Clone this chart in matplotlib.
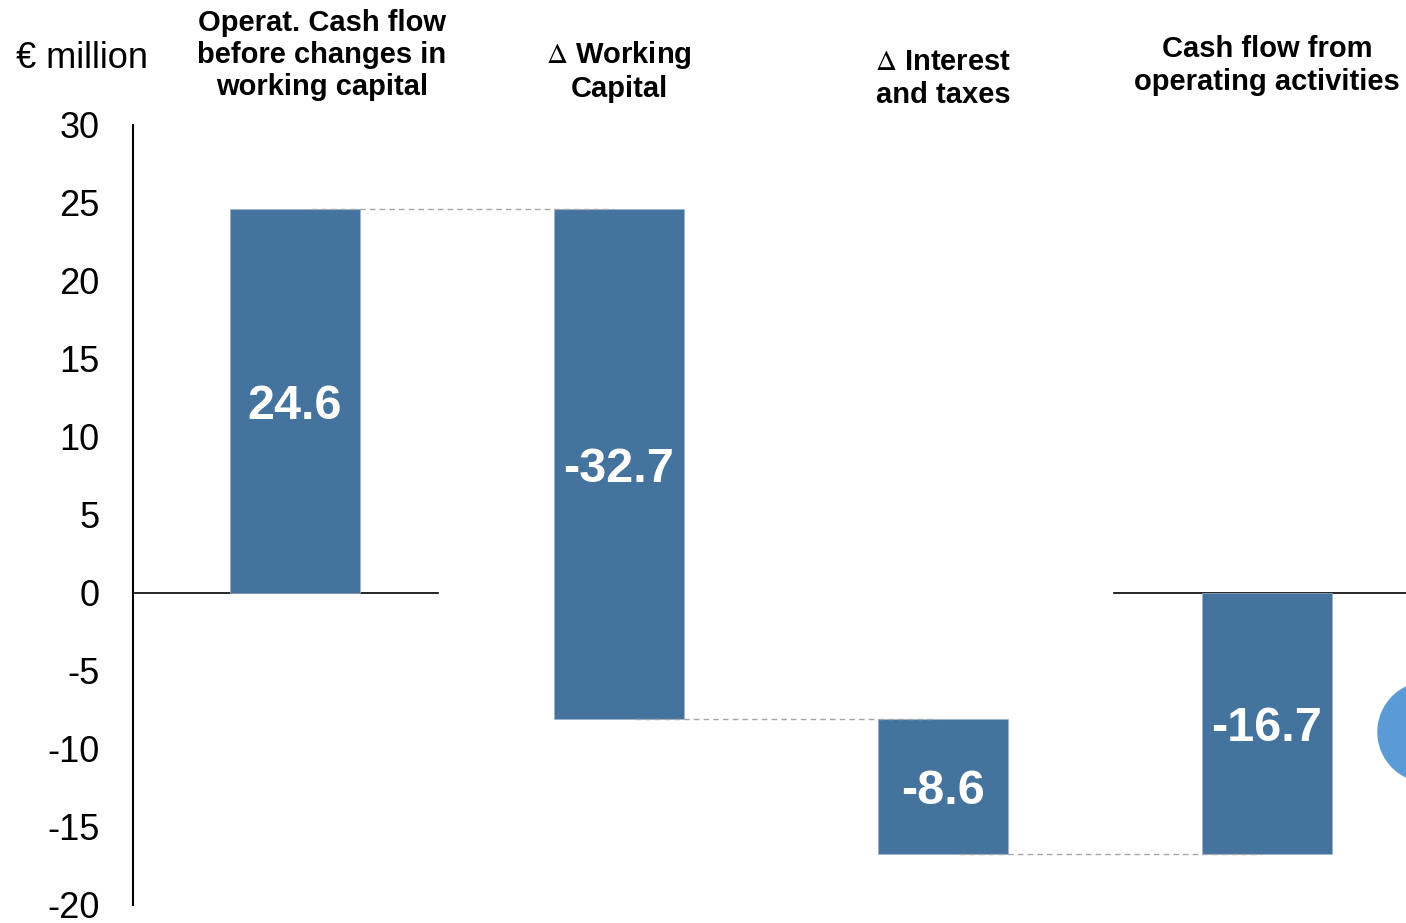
import matplotlib
matplotlib.use('Agg')
import matplotlib.pyplot as plt
from matplotlib.patches import Circle

plt.rcParams['font.family'] = ['Liberation Sans', 'DejaVu Sans']
plt.rcParams['mathtext.fontset'] = 'stix'

# waterfall data (EUR million)
categories = ['Operat. Cash flow\nbefore changes in\nworking capital',
              '$\\Delta$ Working\nCapital',
              '$\\Delta$ Interest\nand taxes',
              'Cash flow from\noperating activities']
steps = [24.6, -32.7, -8.6]
total = -16.7
value_labels = ['24.6', '-32.7', '-8.6', '-16.7']
yticks = [30, 25, 20, 15, 10, 5, 0, -5, -10, -15, -20]

bar_color = '#44739E'

# build bottoms / heights of the waterfall
bottoms = []
heights = []
level = 0
for v in steps:
    bottoms.append(level)
    heights.append(v)
    level += v
bottoms.append(0)
heights.append(total)
x = list(range(len(bottoms)))

fig = plt.figure(figsize=(14.06, 9.23), dpi=100)
ax = fig.add_axes([133 / 1406, 18 / 923, 1273 / 1406, 780 / 923])

# zero line pieces (behind bars)
ax.plot([-0.494, 0.441], [0, 0], color='black', lw=1.2, zorder=1)
ax.plot([2.528, 3.5], [0, 0], color='black', lw=1.2, zorder=1, clip_on=False)

ax.bar(x, heights, bottom=bottoms, width=0.4, color=bar_color,
       edgecolor='#9DB3CB', linewidth=0.5, zorder=2)

# dashed connectors between bars
for i in range(len(steps)):
    lvl = bottoms[i] + heights[i]
    ax.plot([i + 0.05, i + 0.98], [lvl, lvl], color='#A6A6A6', lw=1.0,
            ls=(0, (4, 3)), zorder=3)

# value labels in the middle of each bar
for i in x:
    mid = bottoms[i] + heights[i] / 2
    ax.text(i, mid, value_labels[i], ha='center', va='center_baseline', color='white',
            fontsize=35, fontweight='bold', zorder=4)

ax.set_xlim(-0.5, 3.429)
ax.set_ylim(-20, 30)
ax.set_yticks(yticks)
ax.set_yticklabels([str(t) for t in yticks])
ax.set_xticks([])
ax.tick_params(axis='y', length=0, labelsize=26, pad=24)
for s in ['top', 'right', 'bottom']:
    ax.spines[s].set_visible(False)
ax.spines['left'].set_linewidth(1.5)

# category headers above the plot
label_px = [(322, 55), (619, 71), (943, 78.5), (1267, 65.5)]
for (px, py), lab in zip(label_px, categories):
    fig.text(px / 1406, 1 - py / 923, lab, ha='center', va='center',
             fontsize=21, fontweight='bold', linespacing=1.2)

fig.text(82 / 1406, 1 - 58 / 923, '€ million', ha='center', va='center', fontsize=26)

# decorative circle at right edge
fig.add_artist(Circle((14.28, 1.91), 0.5, transform=fig.dpi_scale_trans,
                      color='#5B9BD5', clip_on=False))

fig.savefig('out.png', dpi=100)
